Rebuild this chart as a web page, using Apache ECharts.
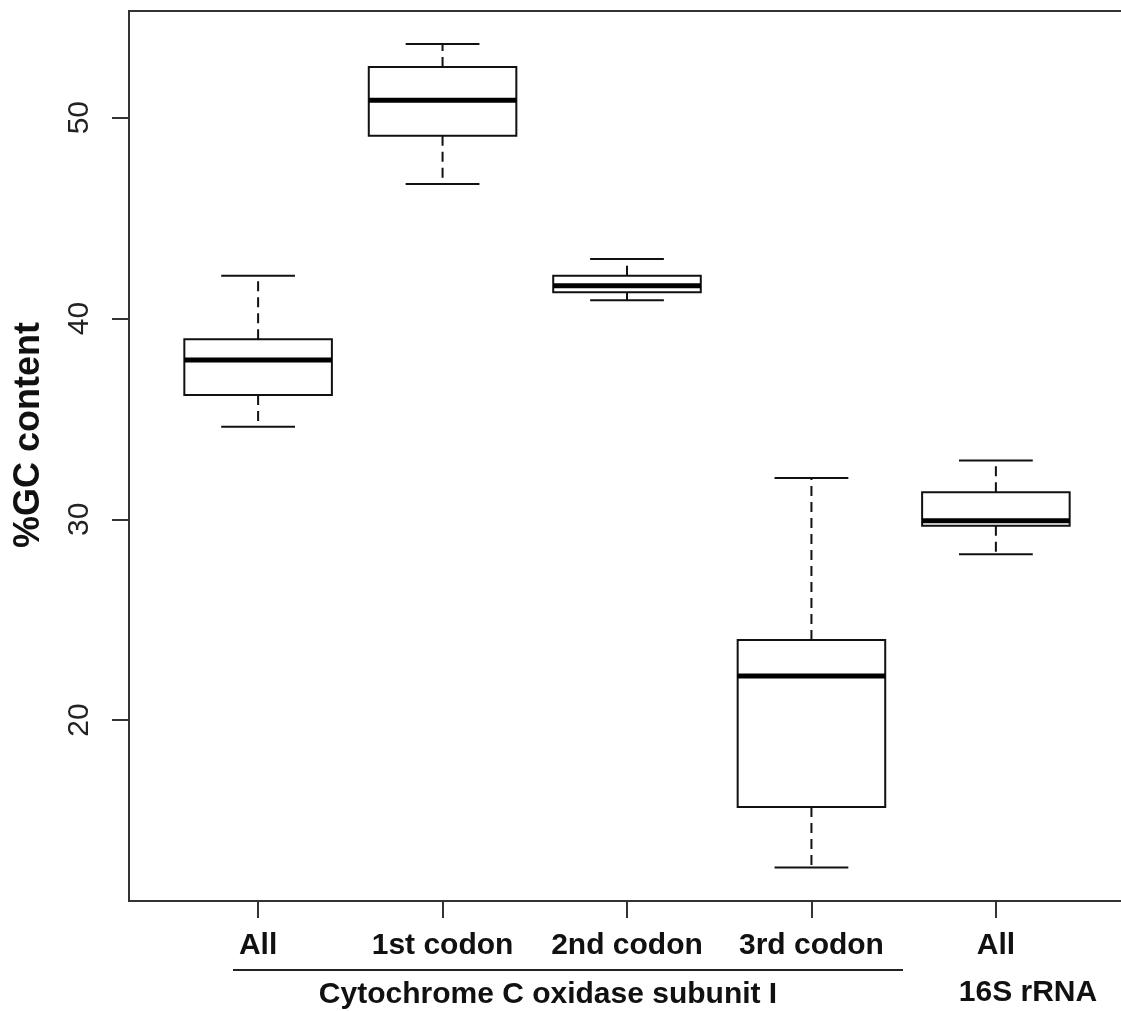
<!DOCTYPE html>
<html>
<head>
<meta charset="utf-8">
<script src="https://cdn.jsdelivr.net/npm/echarts@6/dist/echarts.min.js"></script>
<style>
html,body{margin:0;padding:0;background:#fff;overflow:hidden;width:1121px;height:1011px;}
#chart{width:1126px;height:1011px;}
</style>
</head>
<body>
<div id="chart"></div>
<script>
// ---- data ----
const categories = ['All', '1st codon', '2nd codon', '3rd codon', 'All'];
const positions  = [1, 2, 3, 4, 5];
const lowerWhisker = [34.61, 46.70, 40.91, 12.66, 28.26];
const q1Values     = [36.19, 49.10, 41.30, 15.67, 29.68];
const medianValues = [37.93, 50.86, 41.63, 22.19, 29.93];
const q3Values     = [38.96, 52.52, 42.13, 23.99, 31.34];
const upperWhisker = [42.13, 53.67, 42.96, 32.06, 32.92];
const yTicks = [20, 30, 40, 50];
const groupLabels = ['Cytochrome C oxidase subunit I', '16S rRNA'];

const FONT = '"Liberation Sans", Arial, Helvetica, sans-serif';
const BOX_WIDTH = 0.8, CAP_WIDTH = 0.4;

const boxData = positions.map((p, i) =>
  [p, lowerWhisker[i], q1Values[i], medianValues[i], q3Values[i], upperWhisker[i]]);

function renderItem(params, api) {
  const x = api.value(0);
  const pLo = api.coord([x, api.value(1)]);
  const pQ1 = api.coord([x, api.value(2)]);
  const pMed = api.coord([x, api.value(3)]);
  const pQ3 = api.coord([x, api.value(4)]);
  const pHi = api.coord([x, api.value(5)]);
  const cx = pLo[0];
  const bw = api.size([BOX_WIDTH, 0])[0];
  const cw = api.size([CAP_WIDTH, 0])[0];
  const solid = {stroke: '#111', lineWidth: 2, fill: null};
  const dashed = {stroke: '#111', lineWidth: 2, lineDash: [10, 6], fill: null};
  return {
    type: 'group',
    children: [
      {type: 'line', shape: {x1: cx, y1: pQ3[1], x2: cx, y2: pHi[1]}, style: dashed},
      {type: 'line', shape: {x1: cx, y1: pQ1[1], x2: cx, y2: pLo[1]}, style: dashed},
      {type: 'line', shape: {x1: cx - cw / 2, y1: pHi[1], x2: cx + cw / 2, y2: pHi[1]}, style: solid},
      {type: 'line', shape: {x1: cx - cw / 2, y1: pLo[1], x2: cx + cw / 2, y2: pLo[1]}, style: solid},
      {type: 'rect', shape: {x: cx - bw / 2, y: pQ3[1], width: bw, height: pQ1[1] - pQ3[1]},
        style: {stroke: '#111', lineWidth: 2, fill: '#fff'}},
      {type: 'line', shape: {x1: cx - bw / 2, y1: pMed[1], x2: cx + bw / 2, y2: pMed[1]},
        style: {stroke: '#000', lineWidth: 5}}
    ]
  };
}

const chart = echarts.init(document.getElementById('chart'), null, {renderer: 'canvas'});
chart.setOption({
  backgroundColor: '#fff',
  animation: false,
  grid: {left: 129, top: 11, right: 1, bottom: 110, show: true, borderColor: '#333', borderWidth: 2, backgroundColor: 'transparent'},
  xAxis: {
    type: 'value', min: 0.3, max: 5.7,
    splitLine: {show: false},
    axisLine: {show: true, onZero: false, lineStyle: {color: '#333', width: 2}},
    axisTick: {show: true, length: 17, customValues: positions, lineStyle: {color: '#333', width: 2}},
    axisLabel: {
      customValues: positions, margin: 30,
      formatter: v => categories[Math.round(v) - 1] || '',
      fontFamily: FONT, fontSize: 30, fontWeight: 'bold', color: '#111'
    }
  },
  yAxis: {
    type: 'value', min: 10.99, max: 55.31,
    splitLine: {show: false},
    axisLine: {show: true, lineStyle: {color: '#333', width: 2}},
    axisTick: {show: true, length: 17, customValues: yTicks, lineStyle: {color: '#333', width: 2}},
    axisLabel: {
      customValues: yTicks, rotate: 90, margin: 34,
      fontFamily: FONT, fontSize: 30, color: '#222'
    }
  },
  graphic: [
    {type: 'text', x: 29, y: 435, rotation: Math.PI / 2,
      style: {text: '%GC content', font: 'bold 36px ' + FONT, fill: '#111', textAlign: 'center', textVerticalAlign: 'middle'}},
    {type: 'line', shape: {x1: 233, y1: 970, x2: 903, y2: 970}, style: {stroke: '#222', lineWidth: 2}},
    {type: 'text', x: 548, y: 995,
      style: {text: groupLabels[0], font: 'bold 30px ' + FONT, fill: '#111', textAlign: 'center', textVerticalAlign: 'middle'}},
    {type: 'text', x: 1028, y: 993,
      style: {text: groupLabels[1], font: 'bold 30px ' + FONT, fill: '#111', textAlign: 'center', textVerticalAlign: 'middle'}}
  ],
  series: [{
    type: 'custom',
    renderItem: renderItem,
    data: boxData,
    encode: {x: 0, y: [1, 2, 3, 4, 5]},
    clip: false
  }]
});
</script>
</body>
</html>
